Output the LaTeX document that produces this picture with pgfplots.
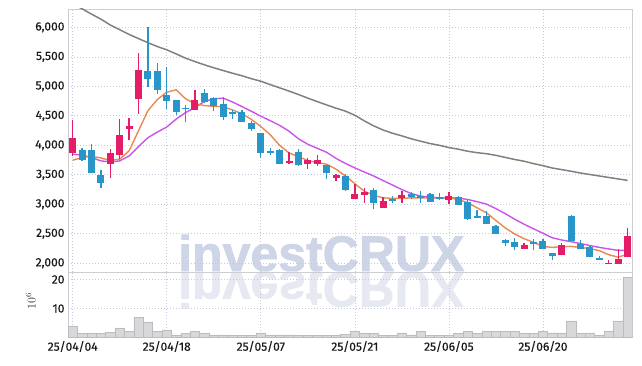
\documentclass[border=0pt]{standalone}
\usepackage{fontspec}
\setmainfont{Fira Sans}[FakeBold=0.4,AutoFakeBold=0.4]
\newfontfamily\tickfont{Fira Sans}[FakeBold=0.4]
\newfontfamily\wmfont{Liberation Sans}[FakeBold=1.5]
\usepackage{graphicx}
\usepackage{pgfplots}
\usepackage{pgfplotstable}
\pgfplotsset{compat=1.18}

\definecolor{upc}{RGB}{229,28,104}
\definecolor{dnc}{RGB}{41,150,202}
\definecolor{maA}{RGB}{237,135,80}
\definecolor{maB}{RGB}{200,85,232}
\definecolor{maC}{RGB}{128,128,128}
\definecolor{gridc}{RGB}{196,202,222}
\definecolor{framec}{RGB}{205,205,210}
\definecolor{volf}{RGB}{216,216,218}
\definecolor{vold}{RGB}{188,188,190}
\definecolor{wm}{RGB}{206,213,231}
\definecolor{wmr}{RGB}{230,233,241}

% up candles: index open high low close
\pgfplotstableread{
x o h l c
0 3878 4436 3821 4117
4 3680 3936 3451 3867
5 3833 4448 3765 4180
6 4270 4465 4094 4333
7 4782 5574 4533 5283
13 4606 4942 4606 4777
23 3702 3895 3680 3736
25 3690 3782 3595 3748
26 3690 3838 3651 3748
28 3441 3519 3395 3492
30 3093 3339 3093 3168
31 3151 3281 3025 3207
33 2940 3127 2940 3054
35 3110 3224 3025 3156
40 3076 3212 3008 3134
48 2240 2342 2240 2315
52 2132 2342 2132 2315
57 1984 2059 1984 2013
58 1984 2247 1984 2076
59 2098 2598 2098 2469
}\upT

% down candles
\pgfplotstableread{
x o h l c
1 3924 3963 3736 3753
2 3924 4021 3537 3537
3 3497 3577 3281 3366
8 5254 6000 4987 5123
9 5254 5403 4874 4930
10 4845 5328 4618 4748
11 4777 4777 4509 4560
12 4640 4686 4390 4612
14 4891 4959 4721 4738
15 4806 4828 4589 4663
16 4703 4828 4430 4475
17 4560 4606 4448 4533
18 4560 4601 4390 4390
19 4372 4406 4248 4277
20 4209 4209 3793 3868
21 3907 3963 3838 3878
22 3924 3941 3690 3690
24 3890 3936 3651 3668
27 3663 3663 3424 3537
29 3480 3510 3224 3241
32 3241 3270 2912 3025
34 3093 3134 3025 3068
36 3178 3212 3093 3127
37 3139 3224 3025 3110
38 3178 3190 3042 3042
39 3127 3185 3071 3102
41 3122 3134 2985 2985
42 3037 3066 2742 2752
43 2798 2900 2769 2773
44 2798 2883 2667 2667
45 2639 2656 2496 2496
46 2394 2417 2298 2349
47 2354 2428 2223 2274
49 2354 2417 2230 2329
50 2371 2411 2240 2240
51 2167 2167 2059 2121
53 2798 2827 2371 2371
54 2332 2400 2247 2247
55 2269 2298 2098 2098
56 2087 2127 2052 2052
}\dnT

% moving averages: index short mid long
\pgfplotstableread{
x a b g
0 3748 3850 6400
1 3793 3833 6315
2 3815 3793 6225
3 3785 3736 6140
4 3745 3719 6040
5 3765 3736 5960
6 3907 3820 5880
7 4248 3980 5810
8 4589 4130 5740
9 4777 4225 5675
10 4901 4310 5620
11 4942 4445 5550
12 4790 4555 5478
13 4705 4640 5420
14 4675 4743 5365
15 4662 4789 5315
16 4655 4800 5268
17 4600 4734 5222
18 4535 4657 5180
19 4440 4577 5130
20 4320 4495 5087
21 4180 4418 5030
22 4000 4338 4975
23 3870 4240 4920
24 3810 4111 4862
25 3740 4018 4800
26 3707 3950 4742
27 3680 3882 4685
28 3595 3778 4630
29 3480 3693 4580
30 3349 3617 4510
31 3224 3548 4415
32 3151 3480 4330
33 3110 3403 4260
34 3100 3327 4205
35 3100 3249 4160
36 3110 3182 4110
37 3110 3139 4070
38 3110 3122 4030
39 3105 3110 4000
40 3110 3110 3962
41 3082 3105 3935
42 3025 3082 3900
43 2940 3045 3875
44 2855 3003 3858
45 2724 2926 3830
46 2598 2840 3795
47 2496 2747 3760
48 2417 2661 3730
49 2354 2585 3690
50 2286 2508 3655
51 2269 2432 3615
52 2281 2394 3588
53 2286 2366 3560
54 2269 2334 3530
55 2247 2300 3505
56 2213 2269 3480
57 2145 2243 3455
58 2104 2218 3430
59 2155 2218 3405
}\maT

% volume (10^6)
\pgfplotstableread{
x v
0 4.0
1 1.3
2 1.3
3 1.3
4 1.7
5 3.3
6 2.0
7 6.8
8 5.4
9 2.1
10 2.6
11 0.9
12 1.3
13 2.0
14 1.3
15 0.6
16 0.9
17 0.6
18 0.6
19 0.6
20 1.6
21 0.6
22 0.9
23 0.9
24 0.6
25 0.6
26 0.6
27 0.8
28 0.7
29 1.2
30 2.0
31 1.4
32 1.4
33 0.7
34 0.7
35 1.6
36 0.9
37 2.0
38 0.7
39 0.8
40 0.8
41 1.4
42 2.0
43 1.4
44 2.0
45 2.0
46 2.0
47 2.0
48 1.4
49 1.4
50 2.0
51 1.6
52 1.6
53 5.7
54 1.4
55 1.6
56 0.9
57 2.3
58 5.7
59 20.6
}\volT

\pgfplotsset{
  common/.style={
    scale only axis,
    width=564.3pt,
    xmin=-0.5, xmax=59.5,
    xtick={0,10,20,30,40,50},
    grid=major,
    major grid style={gridc, dash pattern=on 1pt off 2pt, line width=0.7pt},
    axis line style={framec, line width=0.8pt},
    tick style={draw=none},
    tick label style={font=\tickfont\fontsize{12}{12}\selectfont, text=black!90},
  },
  wick/.style={draw=none, mark=none, forget plot,
    error bars/.cd, y dir=both, y explicit, error mark=none,
    error bar style={draw=#1, line width=1.3pt}},
  body/.style={draw=none, mark=none, forget plot,
    error bars/.cd, y dir=both, y explicit, error mark=none,
    error bar style={draw=#1, line width=7pt}},
}

\begin{document}
\begin{tikzpicture}[x=1pt,y=1pt]
\useasboundingbox (0,0) rectangle (642,366);
% watermark
\node[anchor=base west, inner sep=0pt, text=wm] at (178,95)
  {\wmfont\bfseries\fontsize{50}{50}\selectfont investCRUX};
\node[anchor=base west, inner sep=0pt, text=wmr] at (178,94)
  {\scalebox{1}[-1]{\wmfont\bfseries\fontsize{50}{50}\selectfont investCRUX}};

\begin{axis}[common,
  at={(68pt,94pt)}, anchor=south west,
  height=263pt,
  ymin=1852, ymax=6312,
  ytick={2000,2500,3000,3500,4000,4500,5000,5500,6000},
  yticklabels={{2{,}000},{2{,}500},{3{,}000},{3{,}500},{4{,}000},{4{,}500},{5{,}000},{5{,}500},{6{,}000}},
  xticklabels={},
]
\addplot[maC, line width=1.5pt] table[x=x, y=g]{\maT};
\addplot[maB, line width=1.4pt] table[x=x, y=b]{\maT};
\addplot[maA, line width=1.4pt] table[x=x, y=a]{\maT};
\addplot[wick=upc] table[x=x, y expr={(\thisrow{h}+\thisrow{l})/2}, y error expr={(\thisrow{h}-\thisrow{l})/2}]{\upT};
\addplot[wick=dnc] table[x=x, y expr={(\thisrow{h}+\thisrow{l})/2}, y error expr={(\thisrow{h}-\thisrow{l})/2}]{\dnT};
\addplot[body=upc] table[x=x, y expr={(\thisrow{o}+\thisrow{c})/2}, y error expr={abs(\thisrow{c}-\thisrow{o})/2}]{\upT};
\addplot[body=dnc] table[x=x, y expr={(\thisrow{o}+\thisrow{c})/2}, y error expr={abs(\thisrow{c}-\thisrow{o})/2}]{\dnT};
\end{axis}

\begin{axis}[common,
  at={(68pt,28.5pt)}, anchor=south west,
  height=65.5pt,
  ymin=0, ymax=22.6,
  ytick={10,20}, yticklabels={10,20},
  xticklabels={25/04/04,25/04/18,25/05/07,25/05/21,25/06/05,25/06/20},
  ylabel={$10^6$},
  ylabel style={at={(axis description cs:-0.066,0.55)}, anchor=center, font=\fontsize{12}{12}\selectfont, text=black!80},
]
\addplot[ybar, bar width=1, bar shift=0pt, fill=volf, draw=vold, line width=0.6pt] table[x=x, y=v]{\volT};
\end{axis}
\end{tikzpicture}
\end{document}
